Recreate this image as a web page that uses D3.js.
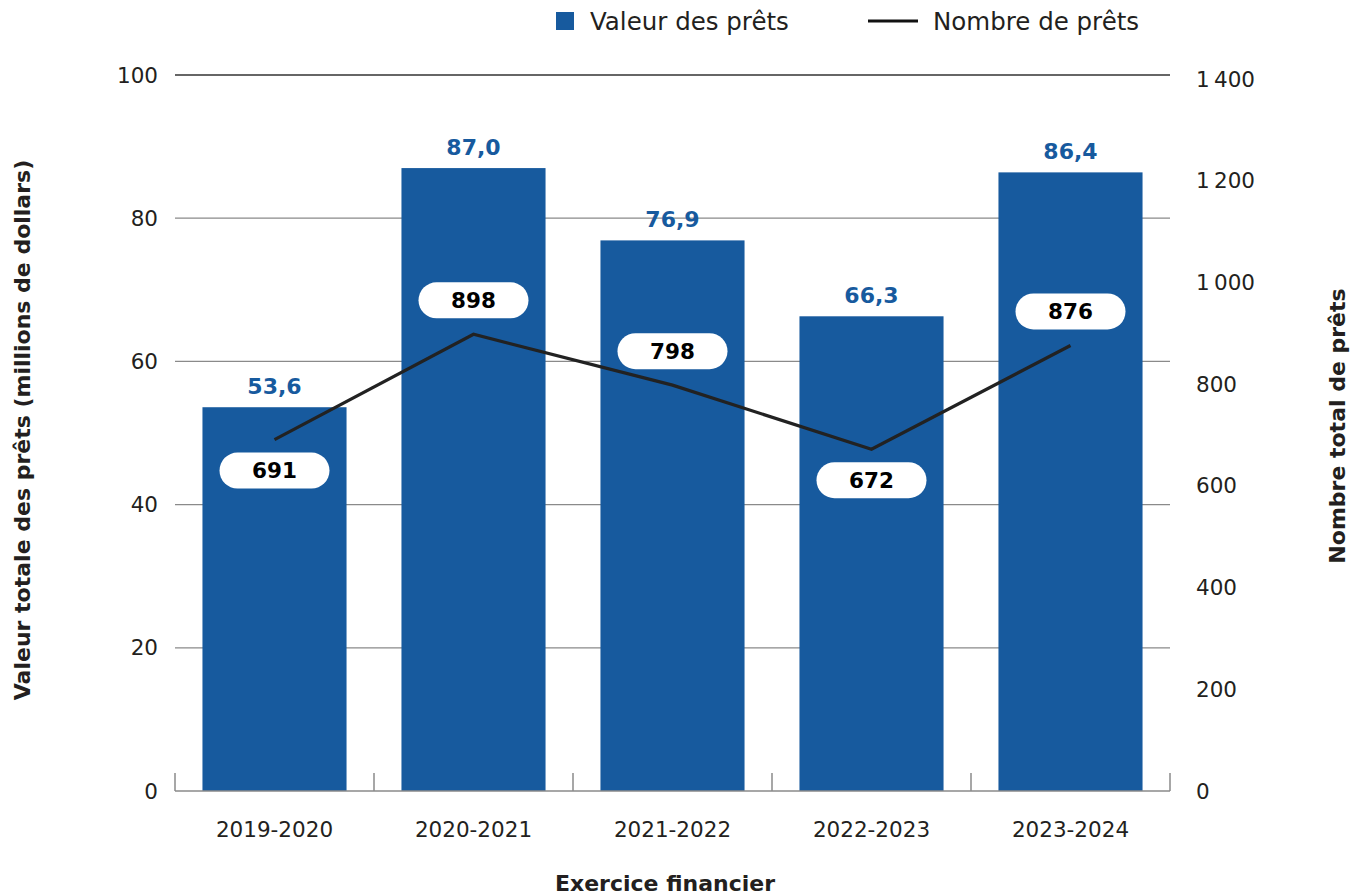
<!DOCTYPE html>
<html>
<head>
<meta charset="utf-8">
<script src="https://cdn.jsdelivr.net/npm/d3@7"></script>
<style>
  body { margin: 0; background: #fff; }
  svg text { font-family: "DejaVu Sans", sans-serif; }
  .tick-lbl { font-size: 21.5px; fill: #231f20; }
  .ax-title { font-size: 22px; font-weight: 700; fill: #231f20; }
  .val-lbl { font-size: 22px; font-weight: 700; fill: #175a9e; }
  .cnt-lbl { font-size: 21.5px; font-weight: 700; fill: #000; }
  .legend { font-size: 24.5px; fill: #231f20; }
</style>
</head>
<body>
<div id="chart"></div>
<script>
const years = ["2019-2020", "2020-2021", "2021-2022", "2022-2023", "2023-2024"];
const loanValues = [53.6, 87.0, 76.9, 66.3, 86.4];
const loanCounts = [691, 898, 798, 672, 876];
const countLabelSide = ["below", "above", "above", "below", "above"];
const leftTicks = [0, 20, 40, 60, 80, 100];
const rightTicks = [0, 200, 400, 600, 800, 1000, 1200, 1400];

const W = 1361, H = 896;
const plotL = 175, plotR = 1170, plotT = 75, plotB = 791;

const svg = d3.select("#chart").append("svg")
  .attr("width", W).attr("height", H);

const x = d3.scaleBand().domain(years).range([plotL, plotR]).paddingInner(0.276).paddingOuter(0.138);
const band = d3.scaleBand().domain(years).range([plotL, plotR]);
const yL = d3.scaleLinear().domain([0, 100]).range([plotB, plotT]);
const yR = d3.scaleLinear().domain([0, 1400]).range([plotB, 79]);

const fmtFr = v => d3.format(".1f")(v).replace(".", ",");
const fmtSpace = v => d3.format(",")(v).replace(/,/g, "\u2009");

// gridlines
svg.append("g").selectAll("line")
  .data(leftTicks.filter(t => t > 0))
  .join("line")
  .attr("x1", plotL).attr("x2", plotR)
  .attr("y1", d => yL(d)).attr("y2", d => yL(d))
  .attr("stroke", d => d === 100 ? "#333" : "#8a8a8a")
  .attr("stroke-width", 1.3);

// left axis labels
svg.append("g").selectAll("text")
  .data(leftTicks)
  .join("text")
  .attr("class", "tick-lbl")
  .attr("x", 158).attr("y", d => yL(d))
  .attr("dy", "0.35em")
  .attr("text-anchor", "end")
  .text(d => d);

// right axis labels
svg.append("g").selectAll("text")
  .data(rightTicks)
  .join("text")
  .attr("class", "tick-lbl")
  .attr("x", 1196).attr("y", d => yR(d))
  .attr("dy", "0.35em")
  .text(d => fmtSpace(d));

// bars
svg.append("g").selectAll("rect")
  .data(years)
  .join("rect")
  .attr("x", d => x(d))
  .attr("width", x.bandwidth())
  .attr("y", (d, i) => yL(loanValues[i]))
  .attr("height", (d, i) => yL(0) - yL(loanValues[i]))
  .attr("fill", "#175a9e");

// bottom axis
const xAxis = svg.append("g");
xAxis.append("line")
  .attr("x1", plotL).attr("x2", plotR)
  .attr("y1", plotB).attr("y2", plotB)
  .attr("stroke", "#8a8a8a").attr("stroke-width", 1.5);
xAxis.selectAll("line.tk")
  .data(years.map(d => band(d)).concat([plotR]))
  .join("line")
  .attr("class", "tk")
  .attr("x1", d => d).attr("x2", d => d)
  .attr("y1", plotB - 18).attr("y2", plotB)
  .attr("stroke", "#8a8a8a").attr("stroke-width", 1.5);
xAxis.selectAll("text")
  .data(years)
  .join("text")
  .attr("class", "tick-lbl")
  .attr("x", d => band(d) + band.bandwidth() / 2)
  .attr("y", 829).attr("dy", "0.35em")
  .attr("text-anchor", "middle")
  .text(d => d);

// value labels
svg.append("g").selectAll("text")
  .data(years)
  .join("text")
  .attr("class", "val-lbl")
  .attr("x", d => x(d) + x.bandwidth() / 2)
  .attr("y", (d, i) => yL(loanValues[i]) - 13)
  .attr("text-anchor", "middle")
  .text((d, i) => fmtFr(loanValues[i]));

// line
const cx = d => band(d) + band.bandwidth() / 2;
const line = d3.line()
  .x((v, i) => cx(years[i]))
  .y(v => yR(v));
svg.append("path")
  .datum(loanCounts)
  .attr("d", line)
  .attr("fill", "none")
  .attr("stroke", "#222")
  .attr("stroke-width", 3.2);

// count pills
const pills = svg.append("g").selectAll("g")
  .data(years)
  .join("g")
  .attr("transform", (d, i) => {
    const py = yR(loanCounts[i]) + (countLabelSide[i] === "above" ? -34 : 31);
    return "translate(" + cx(d) + "," + py + ")";
  });
pills.append("rect")
  .attr("x", -55).attr("y", -18)
  .attr("width", 110).attr("height", 36)
  .attr("rx", 18)
  .attr("fill", "#fff");
pills.append("text")
  .attr("class", "cnt-lbl")
  .attr("text-anchor", "middle")
  .attr("dy", "0.36em")
  .text((d, i) => loanCounts[i]);

// axis titles
svg.append("text")
  .attr("class", "ax-title")
  .attr("transform", "translate(30,430) rotate(-90)")
  .attr("text-anchor", "middle")
  .text("Valeur totale des prêts (millions de dollars)");
svg.append("text")
  .attr("class", "ax-title")
  .attr("transform", "translate(1345,426) rotate(-90)")
  .attr("text-anchor", "middle")
  .text("Nombre total de prêts");
svg.append("text")
  .attr("class", "ax-title")
  .attr("x", 665).attr("y", 891)
  .attr("text-anchor", "middle")
  .text("Exercice financier");

// legend
const lg = svg.append("g");
lg.append("rect")
  .attr("x", 556).attr("y", 12).attr("width", 18).attr("height", 18)
  .attr("fill", "#175a9e");
lg.append("text")
  .attr("class", "legend")
  .attr("x", 590).attr("y", 21).attr("dy", "0.35em")
  .text("Valeur des prêts");
lg.append("line")
  .attr("x1", 868).attr("x2", 918).attr("y1", 21).attr("y2", 21)
  .attr("stroke", "#111").attr("stroke-width", 3);
lg.append("text")
  .attr("class", "legend")
  .attr("x", 933).attr("y", 21).attr("dy", "0.35em")
  .text("Nombre de prêts");
</script>
</body>
</html>
